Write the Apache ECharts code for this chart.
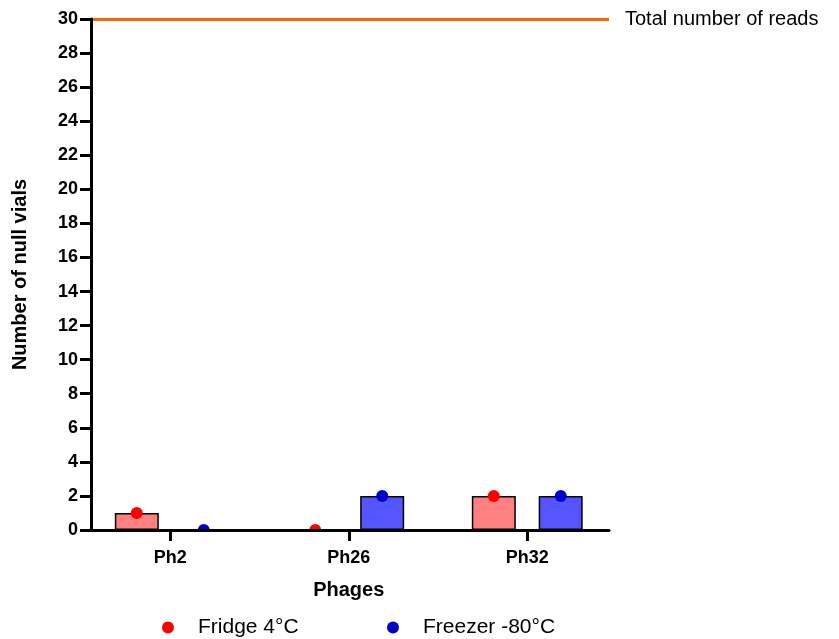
<!DOCTYPE html>
<html>
<head>
<meta charset="utf-8">
<script src="https://cdn.jsdelivr.net/npm/echarts@6/dist/echarts.min.js"></script>
<style>html,body{margin:0;padding:0;background:#fff}#c{width:839px;height:639px}</style>
</head>
<body>
<div id="c"></div>
<script>
var categories = ['Ph2', 'Ph26', 'Ph32'];
var fridge = [1, 0, 2];
var freezer = [0, 2, 2];
var totalReads = 30;
var yTicks = {min: 0, max: 30, interval: 2};
var seriesNames = ['Fridge 4°C', 'Freezer -80°C'];

var FONT = 'Arial, "Liberation Sans", sans-serif';

function dotRenderer(dx, color) {
  return function (params, api) {
    var p = api.coord([api.value(0), api.value(1)]);
    return {type: 'circle', shape: {cx: p[0] + dx, cy: p[1], r: 6}, style: {fill: color}};
  };
}
function pairs(arr) { return arr.map(function (v, i) { return [i, v]; }); }

var chart = echarts.init(document.getElementById('c'));
chart.setOption({
  animation: false,
  backgroundColor: '#fff',
  textStyle: {fontFamily: FONT},
  grid: [
    {left: 81, width: 535.5, top: 19, bottom: 109},
    {left: 91, right: 230, top: 19, bottom: 109}
  ],
  legend: [
    {data: [seriesNames[0]], left: 157, top: 612, icon: 'circle', itemWidth: 50, itemHeight: 12,
     textStyle: {fontSize: 21, color: '#000', fontFamily: FONT}},
    {data: [seriesNames[1]], left: 382, top: 612, icon: 'circle', itemWidth: 50, itemHeight: 12,
     textStyle: {fontSize: 21, color: '#000', fontFamily: FONT}}
  ],
  xAxis: [
    {type: 'category', gridIndex: 0, data: categories,
     axisLine: {show: false},
     axisTick: {show: true, alignWithLabel: true, length: 11, lineStyle: {color: '#000', width: 3}},
     axisLabel: {fontSize: 18, fontWeight: 'bold', color: '#000', margin: 19, fontFamily: FONT},
     name: 'Phages', nameLocation: 'middle', nameGap: 50,
     nameTextStyle: {fontSize: 20, fontWeight: 'bold', color: '#000', fontFamily: FONT},
     splitLine: {show: false}},
    {type: 'value', gridIndex: 1, min: 0, max: 1, z: 5,
     axisLine: {show: true, onZero: false, lineStyle: {color: '#000', width: 3}},
     axisTick: {show: false}, axisLabel: {show: false}, splitLine: {show: false}}
  ],
  yAxis: [
    {type: 'value', gridIndex: 0, min: yTicks.min, max: yTicks.max, interval: yTicks.interval, show: false},
    {type: 'value', gridIndex: 1, min: yTicks.min, max: yTicks.max, interval: yTicks.interval, z: 5,
     axisLine: {show: true, onZero: false, lineStyle: {color: '#000', width: 3}},
     axisTick: {show: true, length: 11, lineStyle: {color: '#000', width: 3}},
     axisLabel: {fontSize: 18, fontWeight: 'bold', color: '#000', margin: 13, fontFamily: FONT},
     splitLine: {show: false},
     name: 'Number of null vials', nameLocation: 'middle', nameGap: 61, nameRotate: 90,
     nameTextStyle: {fontSize: 20, fontWeight: 'bold', color: '#000', fontFamily: FONT}}
  ],
  series: [
    {name: 'bar-fridge', type: 'bar', xAxisIndex: 0, yAxisIndex: 0, data: fridge,
     barWidth: 44, barGap: '52%',
     itemStyle: {color: '#FF8080', borderColor: '#000', borderWidth: 1.5}},
    {name: 'bar-freezer', type: 'bar', xAxisIndex: 0, yAxisIndex: 0, data: freezer,
     barWidth: 44, barGap: '52%',
     itemStyle: {color: '#5555FF', borderColor: '#000', borderWidth: 1.5}},
    {name: seriesNames[0], type: 'custom', xAxisIndex: 0, yAxisIndex: 0, data: pairs(fridge),
     encode: {x: 0, y: 1}, clip: true, z: 4,
     itemStyle: {color: '#FF0000'},
     renderItem: dotRenderer(-33.5, '#FF0000')},
    {name: seriesNames[1], type: 'custom', xAxisIndex: 0, yAxisIndex: 0, data: pairs(freezer),
     encode: {x: 0, y: 1}, clip: true, z: 4,
     itemStyle: {color: '#0000CC'},
     renderItem: dotRenderer(33.5, '#0000CC')},
    {name: 'total', type: 'line', xAxisIndex: 1, yAxisIndex: 1, data: [], silent: true,
     markLine: {symbol: 'none', silent: true, animation: false,
       lineStyle: {color: '#FF6600', width: 3, type: 'solid'},
       label: {show: true, position: 'end', formatter: 'Total number of reads', distance: 16,
               fontSize: 20, color: '#000', fontFamily: FONT},
       emphasis: {disabled: true},
       data: [{yAxis: totalReads}]}}
  ]
});
</script>
</body>
</html>
